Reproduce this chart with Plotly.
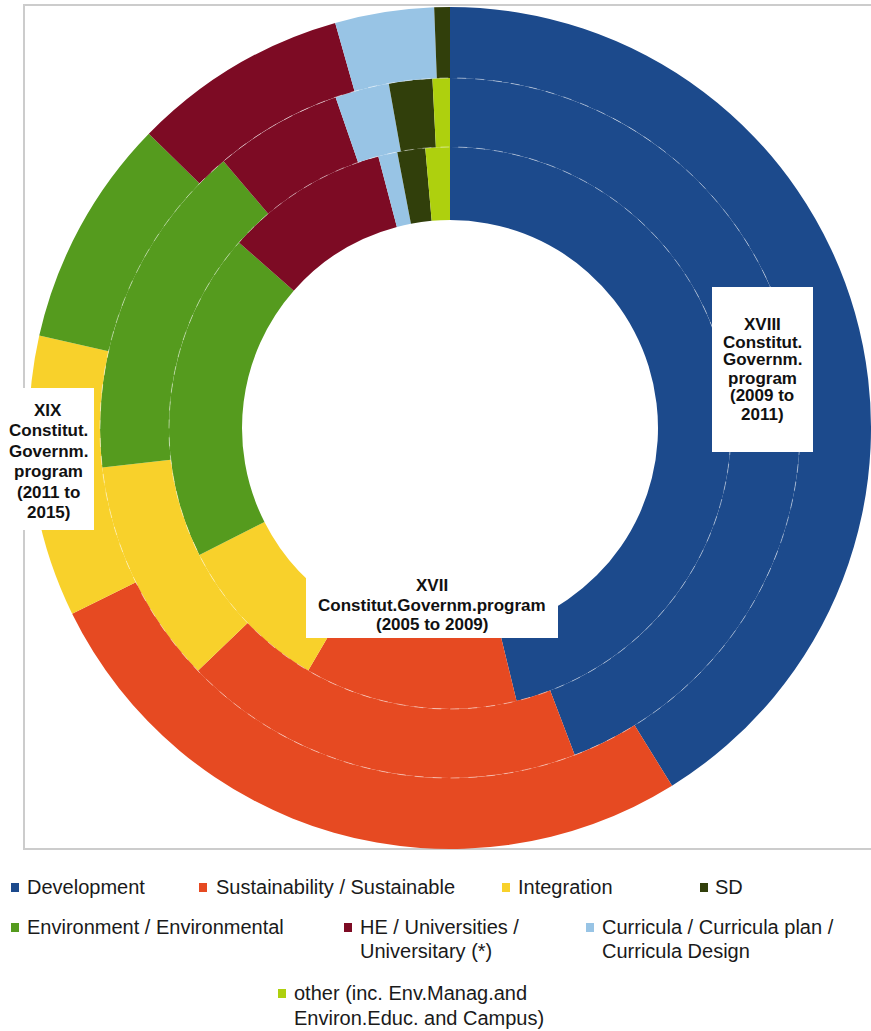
import plotly.graph_objects as go

# Slices run clockwise from 12 o'clock in this order
slice_order = [
    "Development",
    "Sustainability / Sustainable",
    "Integration",
    "Environment / Environmental",
    "HE / Universities / Universitary (*)",
    "Curricula / Curricula plan / Curricula Design",
    "SD",
    "other (inc. Env.Manag.and Environ.Educ. and Campus)",
]

# Share of keyword occurrences (%) per government programme, in slice_order
xvii_2005_2009 = [46.1, 12.2, 9.1, 18.9, 9.4, 1.1, 1.6, 1.4]
xviii_2009_2011 = [44.2, 18.6, 10.4, 15.6, 5.9, 2.5, 2.0, 0.8]
xix_2011_2015 = [41.2, 26.6, 10.8, 8.8, 8.3, 3.8, 0.6, 0.0]

colors = {
    "Development": "#1c4a8c",
    "Sustainability / Sustainable": "#e64a22",
    "Integration": "#f8d12b",
    "SD": "#313f0b",
    "Environment / Environmental": "#559b1e",
    "HE / Universities / Universitary (*)": "#7d0b24",
    "Curricula / Curricula plan / Curricula Design": "#98c4e5",
    "other (inc. Env.Manag.and Environ.Educ. and Campus)": "#aed00e",
}

W, H = 871, 1031
CX, CY = 450, 428             # ring centre in pixels (from top-left)
RADII = [208, 281, 350, 421]  # hole, inner/middle, middle/outer, outer edge


def px(x):
    return x / W


def py(y):
    return (H - y) / H


def domain(r):
    return dict(x=[px(CX - r), px(CX + r)], y=[py(CY + r), py(CY - r)])


fig = go.Figure()
rings = [
    ("XVII", xvii_2005_2009, RADII[0], RADII[1]),
    ("XVIII", xviii_2009_2011, RADII[1], RADII[2]),
    ("XIX", xix_2011_2015, RADII[2], RADII[3]),
]
for name, vals, r_in, r_out in rings:
    fig.add_trace(go.Pie(
        labels=slice_order,
        values=vals,
        name=name,
        hole=r_in / r_out,
        domain=domain(r_out),
        sort=False,
        direction="clockwise",
        rotation=0,
        textinfo="none",
        marker=dict(colors=[colors[c] for c in slice_order], line=dict(width=0)),
        showlegend=False,
    ))

shapes = []
# chart frame
shapes.append(dict(type="rect", xref="paper", yref="paper", layer="below",
                   x0=px(24), x1=px(880), y0=py(849), y1=py(5),
                   line=dict(color="#cccccc", width=2), fillcolor="rgba(0,0,0,0)"))
# faint dashed separators between rings
for r in RADII[1:3]:
    shapes.append(dict(type="circle", xref="paper", yref="paper",
                       x0=px(CX - r), x1=px(CX + r), y0=py(CY + r), y1=py(CY - r),
                       line=dict(color="rgba(255,255,255,0.45)", width=1, dash="dash")))

# label boxes
boxes = [(712, 287, 813, 452), (2, 388, 94, 530), (306, 568, 558, 638)]
for x0, y0, x1, y1 in boxes:
    shapes.append(dict(type="rect", xref="paper", yref="paper",
                       x0=px(x0), x1=px(x1), y0=py(y1), y1=py(y0),
                       line=dict(width=0), fillcolor="white"))

annotations = []
LABEL_FONT = dict(family="Liberation Sans, Arial, sans-serif", size=17, color="#111111")
ring_labels = [
    (762, [324, 342, 360, 378, 396, 414],
     ["<b>XVIII</b>", "<b>Constitut.</b>", "<b>Governm.</b>", "<b>program</b>", "<b>(2009 to</b>", "<b>2011)</b>"]),
    (48, [410, 430.5, 451, 471.5, 492, 512.5],
     ["<b>XIX</b>", "<b>Constitut.</b>", "<b>Governm.</b>", "<b>program</b>", "<b>(2011 to</b>", "<b>2015)</b>"]),
    (432, [585, 605, 624],
     ["<b>XVII</b>", "<b>Constitut.Governm.program</b>", "<b>(2005 to 2009)</b>"]),
]
for cx, ys, lines in ring_labels:
    for y, t in zip(ys, lines):
        annotations.append(dict(x=px(cx), y=py(y), xref="paper", yref="paper",
                                text=t, showarrow=False, xanchor="center", yanchor="middle",
                                font=LABEL_FONT))

# legend: marker x, text x, line centres, text lines
legend_items = [
    ("Development", 11, 25, [887], ["Development"]),
    ("Sustainability / Sustainable", 199, 214, [887], ["Sustainability / Sustainable"]),
    ("Integration", 502, 516, [887], ["Integration"]),
    ("SD", 700, 713, [887], ["SD"]),
    ("Environment / Environmental", 11, 25, [927], ["Environment / Environmental"]),
    ("HE / Universities / Universitary (*)", 344, 358, [927, 951],
     ["HE / Universities /", "Universitary (*)"]),
    ("Curricula / Curricula plan / Curricula Design", 586, 600, [927, 951],
     ["Curricula / Curricula plan /", "Curricula Design"]),
    ("other (inc. Env.Manag.and Environ.Educ. and Campus)", 278, 292, [993, 1018],
     ["other (inc. Env.Manag.and", "Environ.Educ. and Campus)"]),
]
LEG_FONT = dict(family="Liberation Sans, Arial, sans-serif", size=20, color="#1a1a1a")
for cat, mx, tx, ys, lines in legend_items:
    shapes.append(dict(type="rect", xref="paper", yref="paper",
                       x0=px(mx), x1=px(mx + 8), y0=py(ys[0] + 5), y1=py(ys[0] - 4),
                       line=dict(width=0), fillcolor=colors[cat]))
    for y, t in zip(ys, lines):
        annotations.append(dict(x=px(tx), y=py(y), xref="paper", yref="paper",
                                text=t, showarrow=False, xanchor="left", yanchor="middle",
                                font=LEG_FONT))

fig.update_layout(
    width=W, height=H,
    margin=dict(l=0, r=0, t=0, b=0),
    paper_bgcolor="white", plot_bgcolor="white",
    shapes=shapes, annotations=annotations,
    showlegend=False,
)
fig.write_html("out.html")
